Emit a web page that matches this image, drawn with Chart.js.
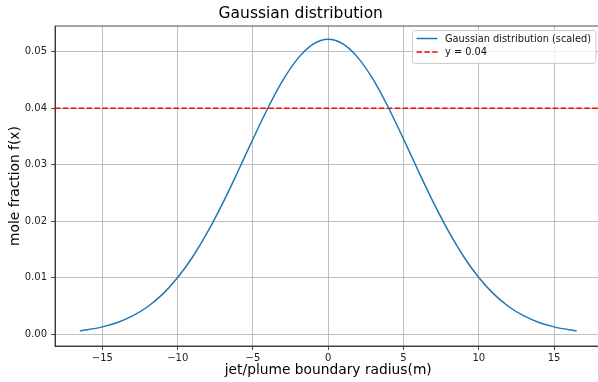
<!DOCTYPE html>
<html>
<head>
<meta charset="utf-8">
<script src="https://cdn.jsdelivr.net/npm/chart.js@4/dist/chart.umd.min.js"></script>
<style>
  html, body { margin: 0; padding: 0; background: #fff; overflow: hidden; }
  canvas { display: block; }
</style>
</head>
<body>
<canvas id="c" width="604" height="382"></canvas>
<script>
// ---- data ----
const radius = [-16.5, -16, -15, -14, -13, -12, -11, -10, -9, -8, -7, -6, -5, -4, -3, -2, -1,
                0, 1, 2, 3, 4, 5, 6, 7, 8, 9, 10, 11, 12, 13, 14, 15, 16, 16.5];
const moleFraction = [0.00058, 0.00076, 0.00127, 0.00204, 0.00320, 0.00483, 0.00706, 0.01000,
                      0.01369, 0.01812, 0.02322, 0.02879, 0.03453, 0.04007, 0.04499, 0.04886, 0.05134,
                      0.05220,
                      0.05134, 0.04886, 0.04499, 0.04007, 0.03453, 0.02879, 0.02322, 0.01812, 0.01369,
                      0.01000, 0.00706, 0.00483, 0.00320, 0.00204, 0.00127, 0.00076, 0.00058];
const thresholdValue = 0.04;
const xRange = [-18.15, 18.15];
const yRange = [-0.00212, 0.05455];
const xTicks = [-15, -10, -5, 0, 5, 10, 15];
const yTicks = [0.00, 0.01, 0.02, 0.03, 0.04, 0.05];
const seriesLabels = ['Gaussian distribution (scaled)', 'y = 0.04'];
const titleText = 'Gaussian distribution';
const xTitle = 'jet/plume boundary radius(m)';
const yTitle = 'mole fraction f(x)';

const FONT = "'DejaVu Sans', sans-serif";

const curvePoints = radius.map((x, i) => ({ x: x, y: moleFraction[i] }));
const linePoints = xRange.map(x => ({ x: x, y: thresholdValue }));

const framePlugin = {
  id: 'frame',
  afterDatasetsDraw(chart) {
    const { ctx, chartArea: a } = chart;
    ctx.save();
    ctx.strokeStyle = '#222';
    ctx.lineWidth = 0.8;
    ctx.strokeRect(a.left, a.top, a.right - a.left, a.bottom - a.top);
    ctx.restore();
  }
};

const legendPlugin = {
  id: 'boxLegend',
  afterDraw(chart) {
    const ctx = chart.ctx;
    const x = 412.5, y = 30.5, w = 183.5, h = 33, r = 3;
    ctx.save();
    ctx.beginPath();
    ctx.moveTo(x + r, y);
    ctx.lineTo(x + w - r, y);
    ctx.quadraticCurveTo(x + w, y, x + w, y + r);
    ctx.lineTo(x + w, y + h - r);
    ctx.quadraticCurveTo(x + w, y + h, x + w - r, y + h);
    ctx.lineTo(x + r, y + h);
    ctx.quadraticCurveTo(x, y + h, x, y + h - r);
    ctx.lineTo(x, y + r);
    ctx.quadraticCurveTo(x, y, x + r, y);
    ctx.closePath();
    ctx.fillStyle = 'rgba(255,255,255,0.8)';
    ctx.fill();
    ctx.strokeStyle = '#cccccc';
    ctx.lineWidth = 1;
    ctx.stroke();
    const rows = [38.5, 52];
    chart.data.datasets.forEach((ds, i) => {
      const yy = rows[i];
      ctx.beginPath();
      ctx.setLineDash(ds.borderDash || []);
      ctx.strokeStyle = ds.borderColor;
      ctx.lineWidth = ds.borderWidth;
      ctx.moveTo(416.5, yy);
      ctx.lineTo(437.5, yy);
      ctx.stroke();
      ctx.setLineDash([]);
      ctx.fillStyle = '#111';
      ctx.font = '9.8px ' + FONT;
      ctx.textBaseline = 'middle';
      ctx.textAlign = 'left';
      ctx.fillText(ds.label, 445, yy + 0.5);
    });
    ctx.restore();
  }
};

const fmtX = v => (v < 0 ? '\u2212' + Math.abs(v) : String(v));

new Chart(document.getElementById('c'), {
  type: 'line',
  data: {
    datasets: [
      {
        label: seriesLabels[0],
        data: curvePoints,
        borderColor: '#1f77b4',
        borderWidth: 1.5,
        pointRadius: 0,
        cubicInterpolationMode: 'monotone',
        fill: false
      },
      {
        label: seriesLabels[1],
        data: linePoints,
        borderColor: '#ff0000',
        borderWidth: 1.5,
        borderDash: [5.5, 2.4],
        pointRadius: 0,
        fill: false
      }
    ]
  },
  options: {
    responsive: false,
    animation: false,
    devicePixelRatio: 1,
    layout: { padding: { left: 0, right: 2.5, top: 0, bottom: 0 } },
    plugins: {
      legend: { display: false },
      tooltip: { enabled: false },
      title: {
        display: true,
        text: titleText,
        color: '#000',
        font: { family: FONT, size: 15.5, weight: 'normal' },
        padding: { top: 4.7, bottom: 2.7 }
      }
    },
    scales: {
      x: {
        type: 'linear',
        min: xRange[0],
        max: xRange[1],
        afterBuildTicks: s => { s.ticks = xTicks.map(v => ({ value: v })); },
        afterFit: s => { s.height = 36; },
        ticks: {
          callback: v => fmtX(v),
          color: '#222',
          font: { family: FONT, size: 10 },
          padding: 2,
          maxRotation: 0,
          autoSkip: false
        },
        grid: { color: '#b0b0b0', lineWidth: 0.8, tickLength: 4, tickColor: '#222', tickWidth: 0.8 },
        border: { display: true, color: '#222', width: 0.8 },
        title: {
          display: true,
          text: xTitle,
          color: '#000',
          font: { family: FONT, size: 13.8 },
          padding: { top: 0, bottom: 3 }
        }
      },
      y: {
        type: 'linear',
        min: yRange[0],
        max: yRange[1],
        afterBuildTicks: s => { s.ticks = yTicks.map(v => ({ value: v })); },
        afterFit: s => { s.width = 55; },
        ticks: {
          callback: v => v.toFixed(2),
          color: '#222',
          font: { family: FONT, size: 10 },
          padding: 4,
          autoSkip: false
        },
        grid: { color: '#b0b0b0', lineWidth: 0.8, tickLength: 4, tickColor: '#222', tickWidth: 0.8 },
        border: { display: true, color: '#222', width: 0.8 },
        title: {
          display: true,
          text: yTitle,
          color: '#000',
          font: { family: FONT, size: 13.8 },
          padding: { top: 7, bottom: 0 }
        }
      }
    }
  },
  plugins: [framePlugin, legendPlugin]
});
</script>
</body>
</html>
